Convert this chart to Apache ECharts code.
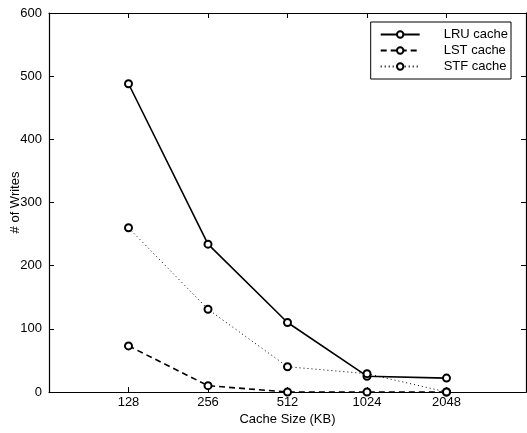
<!DOCTYPE html>
<html><head><meta charset="utf-8">
<script src="https://cdn.jsdelivr.net/npm/echarts@6/dist/echarts.min.js"></script>
<style>html,body{margin:0;padding:0;background:#fff}#c{width:527px;height:433px}</style>
</head><body><div id="c"></div>
<script>
const categories = ['128', '256', '512', '1024', '2048'];
const lruValues = [488, 234, 110, 25, 22];
const lstValues = [73, 10, 0, 0, 0];
const stfValues = [260, 131, 40, 29, 0];
const yTicks = [0, 100, 200, 300, 400, 500, 600];

const toPoints = vals => vals.map((v, i) => [i + 1, v]);
const font = 'Liberation Sans, Arial, Helvetica, sans-serif';

const chart = echarts.init(document.getElementById('c'));
const baseSeries = (name, vals, lineType, width) => ({
  name, type: 'line', data: toPoints(vals), xAxisIndex: 0, yAxisIndex: 0,
  symbol: 'emptyCircle', symbolSize: 7, showSymbol: true,
  itemStyle: { color: '#000', borderColor: '#000', borderWidth: 1.8 },
  lineStyle: { color: '#000', width: width, type: lineType },
  animation: false, z: 3
});
const tick = { inside: true, length: 5, lineStyle: { color: '#000', width: 1 } };
const line = { show: true, onZero: false, lineStyle: { color: '#000', width: 1.2 } };
chart.setOption({
  animation: false,
  grid: { left: 49, right: 1, top: 13, bottom: 41, containLabel: false, outerBoundsMode: 'none' },
  legend: {
    data: ['LRU cache', 'LST cache', 'STF cache'],
    orient: 'vertical', right: 16, top: 22,
    backgroundColor: '#fff', borderColor: '#000', borderWidth: 1,
    padding: [6, 3, 6, 9], itemGap: 3, itemWidth: 39, itemHeight: 8,
    textStyle: { fontFamily: font, fontSize: 13, color: '#000', padding: [0, 0, 0, 19] }
  },
  xAxis: [{
    type: 'value', min: 0, max: 6, interval: 1,
    name: 'Cache Size (KB)', nameLocation: 'middle', nameGap: 21, nameMoveOverlap: false,
    nameTextStyle: { fontFamily: font, fontSize: 13, color: '#000' },
    axisLine: line, axisTick: tick,
    axisLabel: { fontFamily: font, fontSize: 13, color: '#000', margin: 4,
      formatter: v => (v >= 1 && v <= categories.length) ? categories[v - 1] : '' },
    splitLine: { show: false }
  }, {
    type: 'value', min: 0, max: 6, interval: 1, position: 'top',
    axisLine: line, axisTick: tick,
    axisLabel: { show: false }, splitLine: { show: false }
  }],
  yAxis: [{
    type: 'value', min: 0, max: 600, interval: 100,
    name: '# of Writes', nameLocation: 'middle', nameGap: 27, nameMoveOverlap: false,
    nameTextStyle: { fontFamily: font, fontSize: 13, color: '#000' },
    axisLine: line, axisTick: Object.assign({ show: true }, tick),
    axisLabel: { fontFamily: font, fontSize: 13, color: '#000', margin: 7,
      formatter: v => yTicks.includes(v) ? String(v) : '' },
    splitLine: { show: false }
  }, {
    type: 'value', min: 0, max: 600, interval: 100, position: 'right',
    axisLine: line, axisTick: Object.assign({ show: true }, tick),
    axisLabel: { show: false }, splitLine: { show: false }
  }],
  series: [
    baseSeries('LRU cache', lruValues, 'solid', 1.6),
    baseSeries('LST cache', lstValues, [6, 4], 1.6),
    baseSeries('STF cache', stfValues, [1, 3], 1)
  ]
});
</script></body></html>
